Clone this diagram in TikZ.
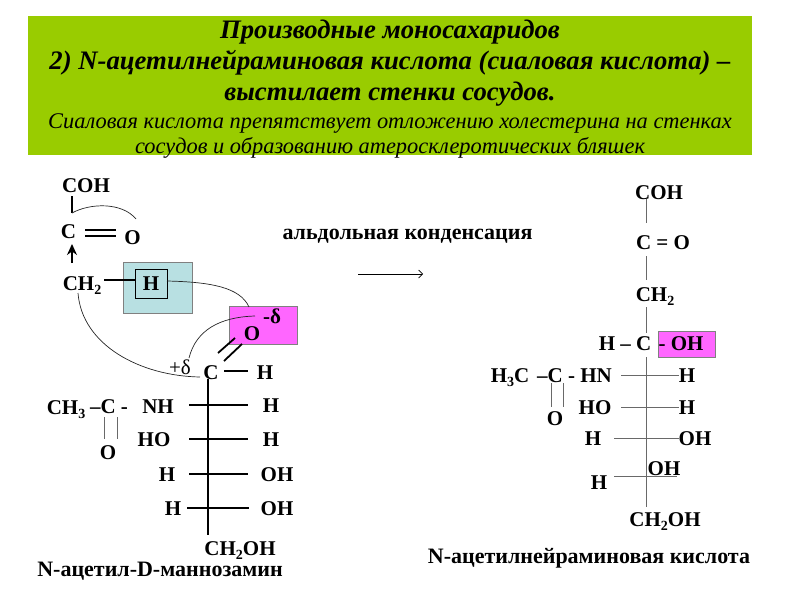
\documentclass[tikz,border=0pt]{standalone}
\usepackage{fontspec}
\setmainfont{Liberation Serif}
\usetikzlibrary{arrows.meta}
\definecolor{bannergreen}{RGB}{153,204,0}
\definecolor{boxblue}{RGB}{184,224,226}
\definecolor{boxpink}{RGB}{255,102,255}
\definecolor{greyline}{RGB}{105,105,105}
\newcommand{\lowtwo}[1]{\raisebox{-4pt}{\fontsize{14}{14}\selectfont #1}}
\tikzset{
  atom/.style={font=\fontsize{21}{21}\selectfont\bfseries, inner sep=0pt, outer sep=0pt, text height=14pt, text depth=0pt},
  caption/.style={font=\fontsize{22}{22}\selectfont\bfseries, inner sep=0pt},
  headline/.style={font=\fontsize{26.7}{26.7}\selectfont\bfseries\itshape, inner sep=0pt},
  subline/.style={font=\fontsize{22.4}{22.4}\selectfont\itshape, inner sep=0pt},
  markbox/.style={draw=black!50, inner sep=0pt, line width=0.6pt},
  bond/.style={line width=1.8pt},
  thinbond/.style={line width=1pt, greyline},
  curve/.style={line width=0.7pt, black!85}
}
\begin{document}
\begin{tikzpicture}[x=1pt,y=-1pt]
  \useasboundingbox (0,0) rectangle (800,600);
  % banner
  \node (banner) [fill=bannergreen, minimum width=724pt, minimum height=139pt, inner sep=0pt] at (390,85.5) {};
  \node (title1) [headline] at (390,32) {Производные моносахаридов};
  \node (title2) [headline] at (390,63) {2) N-ацетилнейраминовая кислота (сиаловая кислота) –};
  \node (title3) [headline] at (390,94) {выстилает стенки сосудов.};
  \node (title4) [subline] at (390,123) {Сиаловая кислота препятствует отложению холестерина  на стенках};
  \node (title5) [subline] at (390,148) {сосудов и образованию атеросклеротических бляшек};
  % highlight boxes
  \node (hbox) [markbox, fill=boxblue, minimum width=69pt, minimum height=51pt] at (157.5,287.5) {};
  \node (obox) [markbox, fill=boxpink, minimum width=68pt, minimum height=38pt] at (263,325) {};
  \node (ohbox) [markbox, fill=boxpink, minimum width=57pt, minimum height=26pt] at (686.5,344) {};
  % left molecule
  \node (lcoh) [atom] at (86,185) {COH};
  \node (lc) [atom] at (68.5,231) {C};
  \node (lo) [atom] at (132.5,237) {O};
  \node (lch2) [atom] at (82,283) {CH\lowtwo{2}};
  \node (lh) [atom, draw, line width=1pt, minimum width=32pt, minimum height=29pt] at (151,283.5) {H};
  \node (ldelta) [atom] at (272,316) {-δ};
  \node (lox) [atom] at (252,333) {O};
  \node (lplus) [atom, font=\fontsize{21}{21}\selectfont] at (180,367) {+δ};
  \node (lcc) [atom] at (211,372) {C};
  \node (lhtop) [atom] at (265,372) {H};
  \node (lch3) [atom] at (66,407) {CH\lowtwo{3}};
  \node (lc2) [atom] at (109,406) {–C -};
  \node (lnh) [atom] at (158,406) {NH};
  \node (lo2) [atom] at (108,452) {O};
  \node (lho) [atom] at (154,439) {HO};
  \node (lh1) [atom] at (271,405) {H};
  \node (lh2) [atom] at (271,439) {H};
  \node (lh3) [atom] at (167,474) {H};
  \node (loh3) [atom] at (277,474) {OH};
  \node (lh4) [atom] at (173,508) {H};
  \node (loh4) [atom] at (277,508) {OH};
  \node (lend) [atom] at (240,548) {CH\lowtwo{2}OH};
  \node (lname) [caption] at (160,571) {N-ацетил-D-маннозамин};
  % left chain
  \coordinate (lbot) at (208,535);
  \coordinate (lbarl) at (189,405);
  \coordinate (lbarr) at (248,405);
  \draw[bond] (lbot |- lcc.south) -- (lbot);
  \foreach \rowname in {lh1,lh2,loh3}
    \draw[bond] (lbarl |- \rowname) -- (lbarr |- \rowname);
  \draw[bond, shorten <=6pt, shorten >=12pt] (lh4.east) -- (loh4.west);
  \draw[bond] (72,196) -- (72,213);
  \draw[bond] (85,230) -- (116,230);
  \draw[bond] (85,236) -- (116,236);
  \draw[-{Stealth[length=11pt,width=10pt]}, line width=1.6pt] (72,263) -- (72,244);
  \draw[bond] (104,280) -- (lh.west |- 0,280);
  \draw[bond] (224,371) -- (248,371);
  \draw[bond] (218,353) -- (235,338);
  \draw[bond] (224,361) -- (242,344);
  \draw[thinbond] (104,417) -- (104,439);
  \draw[thinbond] (117,417) -- (117,439);
  % curved arrows of the mechanism
  \draw[curve] (72,213) .. controls (90,203) and (122,202) .. (136,219);
  \draw[curve] (lh.east |- 0,281) .. controls (210,282) and (240,287) .. (249,307);
  \draw[curve] (255,316) .. controls (220,317) and (196,330) .. (189,358);
  \draw[curve] (78,293) .. controls (82,345) and (140,376) .. (200,377);
  % reaction arrow
  \node (lbl) [caption] at (407.5,236) {альдольная конденсация};
  \coordinate (rfrom) at (358,274);
  \coordinate (rto) at (423,274);
  \draw[-{Straight Barb[length=4pt]}, line width=0.7pt] (rfrom) -- (rto);
  % right molecule
  \node (rcoh) [atom] at (659,192) {COH};
  \node (rco) [atom] at (663,242) {C = O};
  \node (rch2) [atom] at (655,294) {CH\lowtwo{2}};
  \node (rhc) [atom] at (625,343) {H – C};
  \node (roh) [atom] at (681,343) {- OH};
  \node (rh3c) [atom] at (510,375) {H\lowtwo{3}C};
  \node (rcc) [atom] at (574.5,375) {–C - HN};
  \node (rh1) [atom] at (687,375) {H};
  \node (rho) [atom] at (595,407) {HO};
  \node (rh2) [atom] at (687,407) {H};
  \node (ro2) [atom] at (555,418) {O};
  \node (rh3) [atom] at (593,438) {H};
  \node (roh3) [atom] at (695,438) {OH};
  \node (roh4) [atom] at (664,468) {OH};
  \node (rh4) [atom] at (599,482) {H};
  \node (rend) [atom] at (665,519) {CH\lowtwo{2}OH};
  \node (rname) [caption] at (589,558) {N-ацетилнейраминовая кислота};
  % right chain
  \draw[thinbond] (646,199) -- (646,223);
  \draw[thinbond] (646,256) -- (646,280);
  \draw[thinbond] (646,307) -- (646,333);
  \draw[thinbond] (646,357) -- (646,507);
  \draw[thinbond] (621,375) -- (rh1.west);
  \draw[thinbond] (621,407) -- (rh2.west);
  \draw[thinbond] (614,438) -- (roh3.west);
  \draw[thinbond] (614,476) -- (677,476);
  \draw[thinbond] (551,383) -- (551,407);
  \draw[thinbond] (563,383) -- (563,407);
\end{tikzpicture}
\end{document}
